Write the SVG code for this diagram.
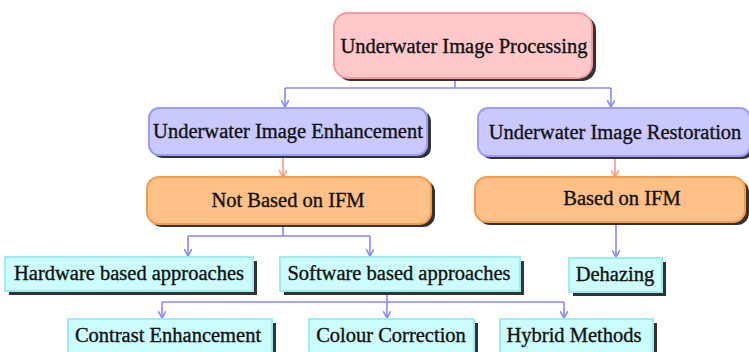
<svg xmlns="http://www.w3.org/2000/svg" width="749" height="352" viewBox="0 0 749 352">
<defs>
<style>
.t{font-family:"Liberation Serif","Times New Roman",serif;fill:#111;stroke:#111;stroke-width:0.35;text-anchor:middle;dominant-baseline:central;font-size:20.5px}
.sh{fill:#333}
.pink{fill:#ffc9cc;stroke:#f49a9e;stroke-width:2}
.purp{fill:#c9c9ff;stroke:#9c9cf4;stroke-width:2}
.orng{fill:#fdc188;stroke:#f39b4f;stroke-width:2}
.cyan{fill:#ccfcfc;stroke:#9eecf0;stroke-width:2}
.cb{fill:none;stroke:#8888f8;stroke-width:1.6}
.co{fill:none;stroke:#f59a78;stroke-width:1.6}
</style>
<marker id="ab" markerWidth="8" markerHeight="8" refX="4" refY="7" markerUnits="userSpaceOnUse" viewBox="0 0 8 8">
<path d="M0,0 L4,7 L8,0" fill="none" stroke="#8888f8" stroke-width="1.6"/>
</marker>
<marker id="ao" markerWidth="8" markerHeight="8" refX="4" refY="7" markerUnits="userSpaceOnUse" viewBox="0 0 8 8">
<path d="M0,0 L4,7 L8,0" fill="none" stroke="#f59a78" stroke-width="1.6"/>
</marker>
</defs>
<rect width="749" height="352" fill="#fff"/>
<g id="connectors">
<path class="cb" d="M455,78 V88"/>
<path class="cb" d="M285,88 H611"/>
<path class="cb" d="M285,88 V107" marker-end="url(#ab)"/>
<path class="cb" d="M611,88 V107" marker-end="url(#ab)"/>
<path class="co" d="M283,156 V177" marker-end="url(#ao)"/>
<path class="co" d="M615,158 V177" marker-end="url(#ao)"/>
<path class="cb" d="M283,226 V236 M188,236 H370"/>
<path class="cb" d="M188,236 V256" marker-end="url(#ab)"/>
<path class="cb" d="M370,236 V256" marker-end="url(#ab)"/>
<path class="cb" d="M616,223 V257" marker-end="url(#ab)"/>
<path class="cb" d="M387,292 V318" marker-end="url(#ab)"/>
<path class="cb" d="M162,302 H564"/>
<path class="cb" d="M162,302 V318" marker-end="url(#ab)"/>
<path class="cb" d="M564,302 V318" marker-end="url(#ab)"/>
</g>
<g id="n-processing">
<rect class="sh" x="337" y="16" width="259" height="65" rx="14"/>
<rect class="pink" x="334" y="13" width="258" height="65" rx="14"/>
<text class="t" x="464" y="46">Underwater Image Processing</text>
</g>
<g id="n-enhancement">
<rect class="sh" x="152" y="111" width="279" height="47" rx="10"/>
<rect class="purp" x="149" y="108" width="278" height="47" rx="10"/>
<text class="t" x="288" y="131">Underwater Image Enhancement</text>
</g>
<g id="n-restoration">
<rect class="sh" x="481" y="111" width="272" height="48" rx="10"/>
<rect class="purp" x="478" y="108" width="272" height="48" rx="10"/>
<text class="t" x="615" y="132">Underwater Image Restoration</text>
</g>
<g id="n-notbased">
<rect class="sh" x="150" y="180" width="285" height="47" rx="12"/>
<rect class="orng" x="147" y="177" width="284" height="47" rx="12"/>
<text class="t" x="288" y="200">Not Based on IFM</text>
</g>
<g id="n-based">
<rect class="sh" x="478" y="180" width="271" height="45" rx="12"/>
<rect class="orng" x="475" y="177" width="270" height="45" rx="12"/>
<text class="t" x="622" y="198">Based on IFM</text>
</g>
<g id="n-hardware">
<rect class="sh" x="9" y="261" width="248" height="34"/>
<rect class="cyan" x="5" y="257" width="248" height="34"/>
<text class="t" x="129" y="273">Hardware based approaches</text>
</g>
<g id="n-software">
<rect class="sh" x="284" y="261" width="240" height="34"/>
<rect class="cyan" x="280" y="257" width="240" height="34"/>
<text class="t" x="399" y="273">Software based approaches</text>
</g>
<g id="n-dehazing">
<rect class="sh" x="573" y="262" width="93" height="34"/>
<rect class="cyan" x="569" y="258" width="93" height="34"/>
<text class="t" x="615" y="274">Dehazing</text>
</g>
<g id="n-contrast">
<rect class="sh" x="72" y="323" width="204" height="36"/>
<rect class="cyan" x="68" y="319" width="204" height="36"/>
<text class="t" x="168" y="335">Contrast Enhancement</text>
</g>
<g id="n-colour">
<rect class="sh" x="313" y="323" width="165" height="36"/>
<rect class="cyan" x="309" y="319" width="165" height="36"/>
<text class="t" x="391" y="335">Colour Correction</text>
</g>
<g id="n-hybrid">
<rect class="sh" x="504" y="323" width="153" height="36"/>
<rect class="cyan" x="500" y="319" width="153" height="36"/>
<text class="t" x="574" y="335">Hybrid Methods</text>
</g>
</svg>
